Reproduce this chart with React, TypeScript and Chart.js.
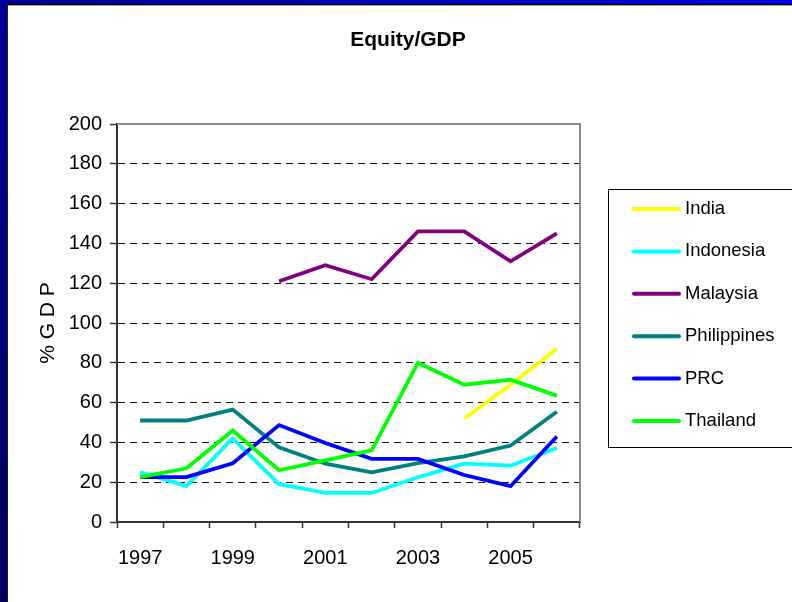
import React, { useEffect, useRef } from "react";
import { Chart, registerables } from "chart.js";

Chart.register(...registerables);

const years = ["1997", "1998", "1999", "2000", "2001", "2002", "2003", "2004", "2005", "2006"];
const india = [null, null, null, null, null, null, null, 52, 69, 87];
const indonesia = [25, 18, 42, 19, 14.6, 14.6, 22.5, 29.3, 28.3, 37.2];
const malaysia = [null, null, null, 121, 129, 122, 146, 146, 131, 145];
const philippines = [51, 51, 56.5, 37.5, 29.3, 25, 29.6, 33, 38.4, 55.4];
const prc = [22.6, 22.6, 29.5, 48.7, 39.7, 31.7, 31.7, 23.6, 18, 43];
const thailand = [22.6, 27, 46, 26, 31, 36, 80, 69, 71.5, 63.5];

const seriesNames = ["India", "Indonesia", "Malaysia", "Philippines", "PRC", "Thailand"];
const seriesColors = ["#FFFF00", "#00FFFF", "#800080", "#008080", "#0000FF", "#00FF00"];
const seriesData = [india, indonesia, malaysia, philippines, prc, thailand];

const FONT = "'Liberation Sans', Arial, sans-serif";

const decorPlugin = {
  id: "decor",
  afterDatasetsDraw(chart: any) {
    const { ctx, chartArea } = chart;
    ctx.save();
    ctx.strokeStyle = "#8c8c8c";
    ctx.lineWidth = 2;
    ctx.beginPath();
    ctx.moveTo(chartArea.left, chartArea.top);
    ctx.lineTo(chartArea.right, chartArea.top);
    ctx.lineTo(chartArea.right, chartArea.bottom);
    ctx.stroke();
    ctx.restore();
  },
  afterDraw(chart: any) {
    const { ctx } = chart;
    ctx.save();
    ctx.fillStyle = "#000";
    ctx.font = `bold 21px ${FONT}`;
    ctx.textAlign = "center";
    ctx.textBaseline = "middle";
    ctx.fillText("Equity/GDP", 408, 40);
    ctx.strokeStyle = "#000";
    ctx.lineWidth = 1;
    ctx.strokeRect(608.5, 189.5, 220, 258);
    ctx.font = `18.5px ${FONT}`;
    ctx.textAlign = "left";
    chart.data.datasets.forEach((ds: any, i: number) => {
      const y = 209 + i * 42.4;
      ctx.strokeStyle = ds.borderColor;
      ctx.lineWidth = 4;
      ctx.lineCap = "round";
      ctx.beginPath();
      ctx.moveTo(634, y);
      ctx.lineTo(679, y);
      ctx.stroke();
      ctx.fillStyle = "#000";
      ctx.fillText(ds.label, 685, y);
    });
    ctx.restore();
  },
};

export default function App() {
  const ref = useRef<HTMLCanvasElement>(null);
  useEffect(() => {
    document.body.style.margin = "0";
    const chart = new Chart(ref.current as HTMLCanvasElement, {
      type: "line",
      data: {
        labels: years,
        datasets: seriesNames.map((name, i) => ({
          label: name,
          data: seriesData[i],
          borderColor: seriesColors[i],
          backgroundColor: seriesColors[i],
          borderWidth: 3.8,
          pointRadius: 0,
          tension: 0,
          spanGaps: false,
          order: seriesNames.length - i,
        })),
      },
      options: {
        animation: false,
        responsive: false,
        maintainAspectRatio: false,
        layout: { padding: { left: 0, top: 124, right: 212, bottom: 0 } },
        plugins: {
          legend: { display: false },
          title: { display: false },
          tooltip: { enabled: false },
        },
        scales: {
          x: {
            type: "category",
            offset: true,
            grid: {
              offset: true,
              drawOnChartArea: false,
              drawTicks: true,
              tickLength: 6,
              tickColor: "#333",
              tickWidth: 1.5,
            },
            border: { display: true, color: "#333", width: 2 },
            ticks: {
              autoSkip: false,
              maxRotation: 0,
              padding: 18,
              color: "#000",
              font: { family: FONT, size: 20 },
              callback: (_v: any, i: number) => (i % 2 === 0 ? years[i] : ""),
            },
            afterFit: (s: any) => {
              s.height = 80;
            },
          },
          y: {
            min: 0,
            max: 200,
            ticks: {
              stepSize: 20,
              padding: 8,
              color: "#000",
              font: { family: FONT, size: 20 },
            },
            grid: {
              color: (c: any) => (c.tick && (c.tick.value === 0 || c.tick.value === 200) ? "rgba(0,0,0,0)" : "#111"),
              lineWidth: 1,
              drawTicks: true,
              tickLength: 7,
              tickColor: "#333",
              tickWidth: 1.5,
              tickBorderDash: [],
            },
            border: { display: true, color: "#333", width: 2, dash: [7, 5] },
            title: {
              display: true,
              text: "% G D P",
              color: "#000",
              font: { family: FONT, size: 21 },
              padding: { top: 36, bottom: 0 },
            },
            afterFit: (s: any) => {
              s.width = 117;
            },
          },
        },
      },
      plugins: [decorPlugin],
    });
    return () => chart.destroy();
  }, []);

  return (
    <div style={{ position: "absolute", left: 0, top: 0, width: 792, height: 602, background: "#fff", overflow: "hidden" }}>
      <canvas ref={ref} width={792} height={602} style={{ position: "absolute", left: 0, top: 0, width: 792, height: 602 }} />
      <div style={{ position: "absolute", left: 0, top: 0, width: 792, height: 4, background: "linear-gradient(to right, #00008c, #0000e0)" }} />
      <div style={{ position: "absolute", left: 7, top: 4, width: 785, height: 1, background: "#000" }} />
      <div style={{ position: "absolute", left: 7, top: 5, width: 785, height: 1, background: "#a0a0a0" }} />
      <div style={{ position: "absolute", left: 0, top: 0, width: 7, height: 602, background: "linear-gradient(to bottom, #00009a, #000060)" }} />
      <div style={{ position: "absolute", left: 7, top: 4, width: 1, height: 598, background: "#222" }} />
    </div>
  );
}
